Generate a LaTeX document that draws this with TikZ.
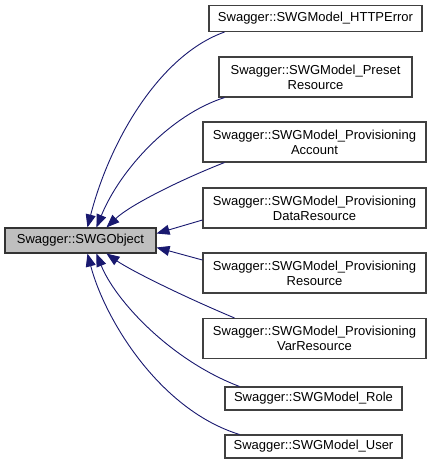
\documentclass[tikz,border=0pt]{standalone}
\usepackage{fontspec}
\setmainfont{Liberation Sans}
\usetikzlibrary{arrows.meta}
\definecolor{edgeblue}{HTML}{191970}
\definecolor{boxgray}{HTML}{BFBFBF}
\definecolor{boxline}{HTML}{404040}
\tikzset{
  cls/.style={draw=boxline, line width=1.1pt, fill=white, inner sep=0pt, align=center,
    font=\fontsize{13}{15}\selectfont},
  base/.style={cls, fill=boxgray, draw=black!80},
  edge/.style={draw=edgeblue, line width=0.9pt, {Triangle[length=13pt,width=10pt]}-, fill=none}
}
\begin{document}
\begin{tikzpicture}[x=1pt,y=-1pt]
\useasboundingbox (0,0) rectangle (432,467);
\fill[white] (0,0) rectangle (432,467);
\node[base, minimum width=151pt, minimum height=25pt] (obj) at (80.5,240.5) {Swagger::SWGObject};
\node[cls, minimum width=213pt, minimum height=26pt] (http) at (315.5,18.5) {Swagger::SWGModel\_HTTPError};
\node[cls, minimum width=193pt, minimum height=40pt] (preset) at (315.5,77) {Swagger::SWGModel\_Preset\\Resource};
\node[cls, minimum width=223pt, minimum height=40pt] (acct) at (314.5,142) {Swagger::SWGModel\_Provisioning\\Account};
\node[cls, minimum width=223pt, minimum height=40pt] (data) at (314.5,208) {Swagger::SWGModel\_Provisioning\\DataResource};
\node[cls, minimum width=223pt, minimum height=40pt] (res) at (314.5,273) {Swagger::SWGModel\_Provisioning\\Resource};
\node[cls, minimum width=223pt, minimum height=40pt] (var) at (314.5,338.5) {Swagger::SWGModel\_Provisioning\\VarResource};
\node[cls, minimum width=177pt, minimum height=23pt] (role) at (313.5,398.5) {Swagger::SWGModel\_Role};
\node[cls, minimum width=177pt, minimum height=23pt] (user) at (313.5,446.5) {Swagger::SWGModel\_User};

\draw[edge] ([xshift=83pt]obj.north west) .. controls (110,140) and (160,55) .. ([xshift=16pt]http.south west);
\draw[edge] ([xshift=92pt]obj.north west) .. controls (120,170) and (170,115) .. ([xshift=6pt]preset.south west);
\draw[edge] ([xshift=102pt]obj.north west) .. controls (130,205) and (180,180) .. ([xshift=22pt]acct.south west);
\draw[edge] ([yshift=7pt]obj.east) -- ([yshift=-12pt]data.west);
\draw[edge] ([yshift=-7pt]obj.east) -- ([yshift=13pt]res.west);
\draw[edge] ([xshift=102pt]obj.south west) .. controls (130,270) and (180,295) .. ([xshift=32pt]var.north west);
\draw[edge] ([xshift=92pt]obj.south west) .. controls (115,300) and (170,360) .. ([xshift=15pt]role.north west);
\draw[edge] ([xshift=83pt]obj.south west) .. controls (105,320) and (160,410) .. ([xshift=15pt]user.north west);
\end{tikzpicture}
\end{document}
